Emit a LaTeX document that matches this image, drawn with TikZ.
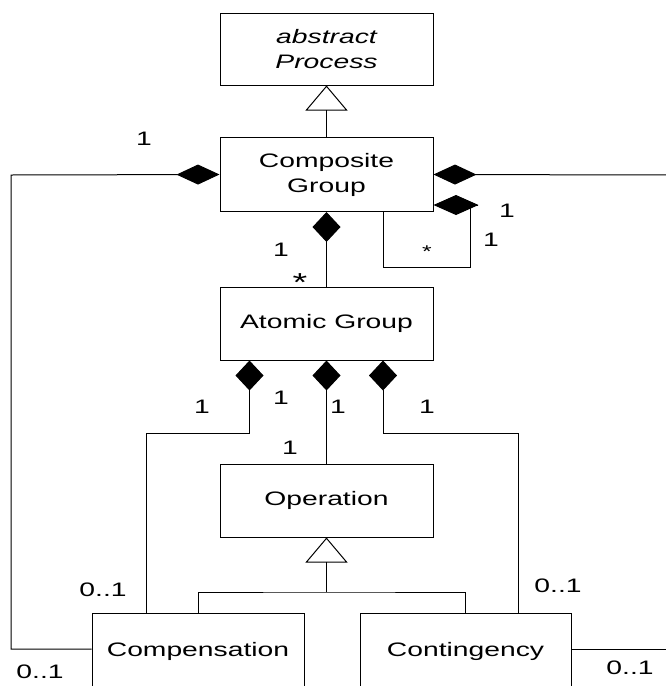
\documentclass[tikz,border=0pt]{standalone}
\usepackage{fontspec}
\newfontfamily\umlfont[FakeStretch=1.45]{Liberation Sans}
\usetikzlibrary{arrows.meta}
\begin{document}
\begin{tikzpicture}[x=1pt,y=-1pt,
  every node/.style={font=\umlfont\fontsize{19.5}{25}\selectfont},
  cls/.style={draw, line width=1pt, inner sep=0pt, align=center},
  mult/.style={inner sep=0pt},
  conn/.style={line width=1pt},
  hdiam/.style={conn, -{Diamond[length=43pt,width=20pt]}},
  vdiam/.style={conn, -{Diamond[length=30pt,width=28pt]}},
  gen/.style={conn, -{Triangle[open,length=25pt,width=42pt]}}]
\useasboundingbox (0,0) rectangle (666,686);
\clip (0,0) rectangle (666,686);

% classes
\node[cls, minimum width=213pt, minimum height=72pt,
      font=\umlfont\itshape\fontsize{19.5}{25}\selectfont] (abs) at (326.5,49) {abstract\\Process};
\node[cls, minimum width=213pt, minimum height=74pt] (comp) at (326.5,174.5) {Composite\\Group};
\node[cls, minimum width=213pt, minimum height=73pt] (atom) at (326.5,323.5) {Atomic Group};
\node[cls, minimum width=213pt, minimum height=73pt] (op) at (326.5,500.5) {Operation};
\node[cls, minimum width=212pt, minimum height=76pt] (cmp) at (198,651) {Compensation};
\node[cls, minimum width=211pt, minimum height=76pt] (cnt) at (465.5,651) {Contingency};

% helper points
\coordinate (lc) at (11,175);
\coordinate (re1) at (670,175);
\coordinate (re2) at (670,649);
\coordinate (loopd) at (478,205);
\coordinate (lp1) at (470,208);
\coordinate (lp2) at (383,267);
\coordinate (gj) at (326.5,592);

% generalisations
\draw[gen] (comp.north) -- (abs.south);
\draw[conn] (cmp.north) |- (gj) -| (cnt.north);
\draw[gen] (gj) -- (op.south);

% compositions
\draw[hdiam] ([yshift=2pt]cmp.west) -| (lc) -- (comp.west);
\draw[hdiam] (re1) -- (comp.east);
\draw[conn] ([yshift=2pt]cnt.east) -- (re2);
\draw[conn, -{Diamond[length=45pt,width=20pt]}] (loopd) -- ([yshift=-30.5pt]comp.east);
\draw[conn] (lp1) |- (lp2) -- (lp2 |- comp.south);
\draw[vdiam] (atom.north) -- (comp.south);
\draw[vdiam] (op.north) -- (atom.south);
\draw[vdiam] ([xshift=-52pt]cmp.north) |- ([xshift=-77pt,yshift=-73pt]atom.south) -- ([xshift=-77pt]atom.south);
\draw[vdiam] ([xshift=52.5pt]cnt.north) |- ([xshift=56.5pt,yshift=-73pt]atom.south) -- ([xshift=56.5pt]atom.south);

% multiplicities
\node[mult] (m1) at (144,139) {1};
\node[mult] (m2) at (507,211) {1};
\node[mult] (m3) at (491,240) {1};
\node[mult, font=\umlfont\fontsize{17}{19}\selectfont] (m4) at (427,252) {*};
\node[mult] (m5) at (281,250) {1};
\node[mult, font=\umlfont\fontsize{26}{28}\selectfont] (m6) at (300,283) {*};
\node[mult] (m7) at (202,407) {1};
\node[mult] (m8) at (281,398) {1};
\node[mult] (m9) at (338,407) {1};
\node[mult] (m10) at (427,407) {1};
\node[mult] (m11) at (290,448) {1};
\node[mult] (m12) at (103,590) {0..1};
\node[mult] (m13) at (558,586) {0..1};
\node[mult] (m14) at (40,672) {0..1};
\node[mult] (m15) at (630,668) {0..1};
\end{tikzpicture}
\end{document}
